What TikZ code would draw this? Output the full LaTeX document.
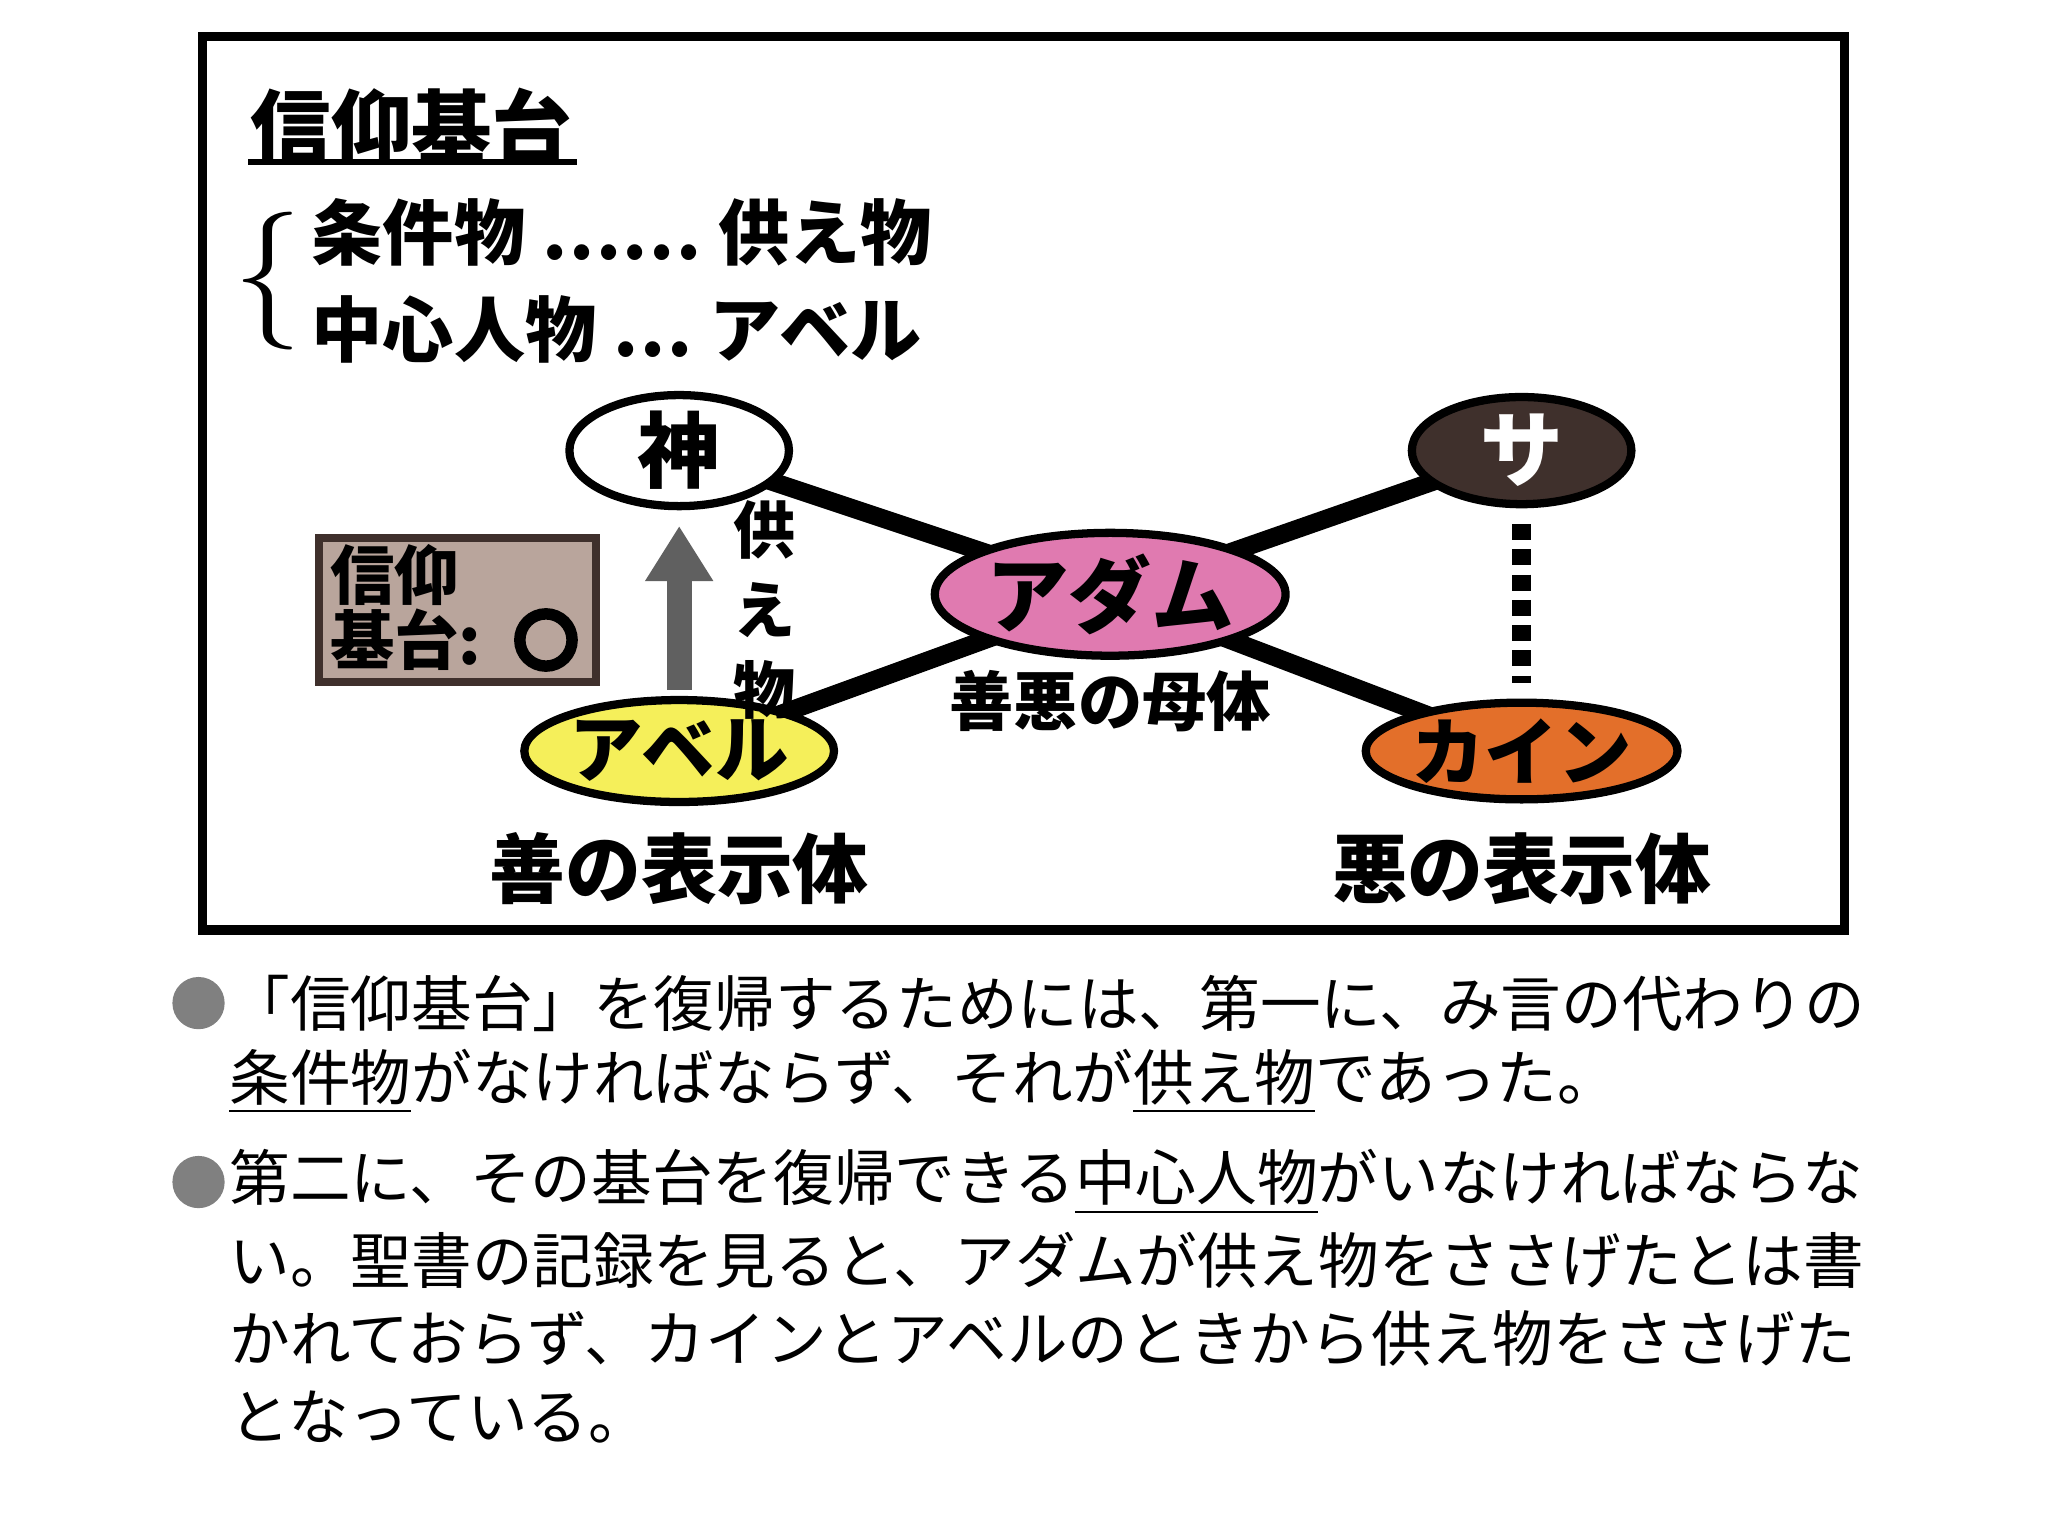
\documentclass[tikz,border=0pt]{standalone}
\usepackage{fontspec}
\newfontfamily\jp{Noto Sans CJK JP}
\usetikzlibrary{shapes.geometric,arrows.meta}
\definecolor{sat}{HTML}{3F302C}
\definecolor{adam}{HTML}{E07AB0}
\definecolor{abel}{HTML}{F5EF5A}
\definecolor{cain}{HTML}{E36F2A}
\definecolor{boxc}{HTML}{B9A59C}
\newcommand{\fs}[1]{\fontsize{#1}{#1}\selectfont}
\tikzset{
  ell/.style={ellipse,draw=black,line width=1.8pt,inner sep=0pt,font=\jp\bfseries\fs{18pt}},
  link/.style={line width=4pt,black},
  body/.style={anchor=west,inner sep=0pt,font=\jp\fs{13.2pt}},
  lbl/.style={inner sep=0pt,font=\jp\bfseries\fs{16pt}}
}
\begin{document}
\begin{tikzpicture}[x=0.01cm,y=-0.01cm]
\useasboundingbox[fill=white] (0,0) rectangle (1568,1176);
\draw[line width=2pt] (155,28) rectangle (1412,712);
\node[lbl,font=\jp\bfseries\fs{17.5pt}] (title) at (315,97) {信仰基台};
\draw[line width=1.5pt] (190,124) -- (442,124);
\node[anchor=east,inner sep=0pt,font=\fs{30pt}] (br) at (232,215) {\{};
\node[lbl,anchor=west,font=\jp\bfseries\fs{15.5pt}] (l1) at (238,178) {条件物 ⋯⋯ 供え物};
\node[lbl,anchor=west,font=\jp\bfseries\fs{15.5pt}] (l2) at (238,252) {中心人物 ⋯ アベル};
% connectors first (behind ellipses)
\coordinate (g) at (520,345);
\coordinate (s) at (1165,345);
\coordinate (a) at (850,455);
\coordinate (b) at (520,575);
\coordinate (c) at (1165,575);
\draw[link] (g) -- (a);
\draw[link] (s) -- (a);
\draw[link] (b) -- (a);
\draw[link] (c) -- (a);
% ellipses
\node[ell,fill=white,minimum width=1.68cm,minimum height=0.82cm] (god) at (g) {神};
\node[ell,fill=sat,text=white,minimum width=1.68cm,minimum height=0.82cm] (sa) at (s) {サ};
\node[ell,fill=adam,minimum width=2.62cm,minimum height=0.94cm] (adam) at (a) {アダム};
\node[ell,fill=abel,minimum width=2.2cm,minimum height=0.78cm,font=\jp\bfseries\fs{16pt}] (abel) at (b) {アベル};
\node[ell,fill=cain,minimum width=2.2cm,minimum height=0.74cm,font=\jp\bfseries\fs{16pt}] (cain) at (c) {カイン};
\draw[line width=4pt,dash pattern=on 3.5pt off 2pt] ([yshift=-0.12cm]sa.south) -- ([yshift=0.12cm]cain.north);
% arrow
\coordinate (abtop) at (520,528);
\draw[-{Triangle[length=12pt,width=14pt]},line width=5.5pt,gray!75!black] (abtop) -- ([yshift=-0.12cm]god.south);
\node[lbl,align=center,font=\jp\bfseries\fs{13.5pt}] (offer) at (585,467) {供\\[4pt]え\\[4pt]物};
% box
\node[draw=sat,line width=1.8pt,fill=boxc,minimum width=2.12cm,minimum height=1.1cm,anchor=north west,inner sep=0pt] (fb) at (241,409) {};
\node[lbl,anchor=west,font=\jp\bfseries\fs{14pt}] (fb1) at (252,440) {信仰};
\node[lbl,anchor=west,font=\jp\bfseries\fs{14pt}] (fb2) at (252,490) {基台:};
\node[circle,draw=black,line width=2.5pt,minimum width=0.4cm,inner sep=0pt] (fbo) at (418,490) {};
% labels
\node[lbl,font=\jp\bfseries\fs{14pt}] (mother) at (850,537) {善悪の母体};
\node[lbl,font=\jp\bfseries\fs{16.5pt}] (good) at (520,665) {善の表示体};
\node[lbl,font=\jp\bfseries\fs{16.5pt}] (evil) at (1165,665) {悪の表示体};
% body text
\fill[gray] (152,768) circle (20);
\fill[gray] (152,905) circle (20);
\node[body] (t1) at (175,768) {「信仰基台」を復帰するためには、第一に、み言の代わりの};
\node[body] (t2) at (175,828) {\underline{条件物}がなければならず、それが\underline{供え物}であった。};
\node[body] (t3) at (175,905) {第二に、その基台を復帰できる\underline{中心人物}がいなければならな};
\node[body] (t4) at (175,965) {い。聖書の記録を見ると、アダムが供え物をささげたとは書};
\node[body] (t5) at (175,1025) {かれておらず、カインとアベルのときから供え物をささげた};
\node[body] (t6) at (175,1085) {となっている。};
\end{tikzpicture}
\end{document}
